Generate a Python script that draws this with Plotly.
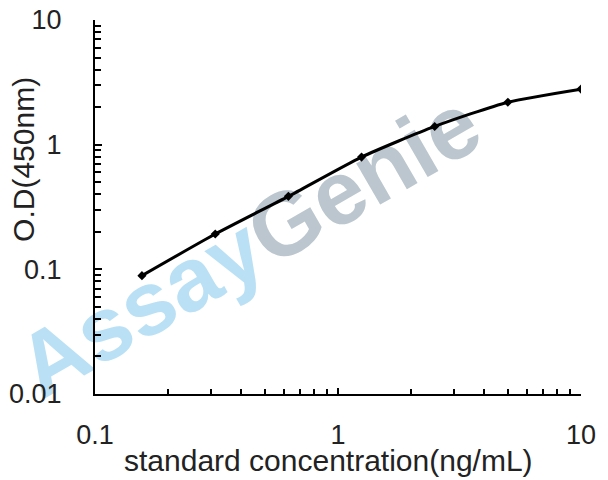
import plotly.graph_objects as go

# standard curve values
concentration = [0.156, 0.3125, 0.625, 1.25, 2.5, 5, 10]
od_450 = [0.089, 0.192, 0.385, 0.795, 1.40, 2.19, 2.79]

x_title = "standard concentration(ng/mL)"
y_title = "O.D(450nm)"

font_family = "Liberation Sans, Arial, sans-serif"
text_col = "#222222"

fig = go.Figure()

fig.add_trace(go.Scatter(
    x=concentration, y=od_450,
    mode="lines+markers",
    line=dict(color="black", width=3, shape="spline", smoothing=0.6),
    marker=dict(symbol="diamond", size=7, color="black"),
    showlegend=False))

# watermark, kept under the curve
watermark = ("<b><span style='color:#b9e0f4'>Assay</span>"
             "<span style='color:#bcc6ce'>Genie</span></b>")
fig.add_shape(type="rect", xref="paper", yref="paper",
              x0=0.297, x1=0.317, y0=0.410, y1=0.430,
              line=dict(width=0), layer="below",
              label=dict(text=watermark, textangle=-30, textposition="middle center",
                         font=dict(size=90, color="#b9e0f4", family=font_family)))

fig.add_annotation(text=y_title, xref="paper", yref="paper", x=-0.146, y=0.626,
                   textangle=-90, showarrow=False, xanchor="center", yanchor="middle",
                   font=dict(size=30, color=text_col, family=font_family))
fig.add_annotation(text=x_title, xref="paper", yref="paper", x=0.48, y=-0.178,
                   showarrow=False, xanchor="center", yanchor="middle",
                   font=dict(size=30, color=text_col, family=font_family))

fig.update_xaxes(type="log", range=[-1, 1], dtick=1, automargin=False,
                 showline=True, linecolor="black", linewidth=2, mirror=False,
                 ticks="inside", ticklen=6, tickwidth=1.5, tickcolor="black",
                 minor=dict(ticks="inside", ticklen=5, tickwidth=1.5, tickcolor="black", showgrid=False),
                 showgrid=False, zeroline=False,
                 ticklabelstandoff=16, ticklabeloverflow="allow",
                 tickfont=dict(size=27, color=text_col, family=font_family))
fig.update_yaxes(type="log", range=[-2, 1], dtick=1, automargin=False,
                 showline=True, linecolor="black", linewidth=2, mirror=False,
                 ticks="inside", ticklen=7, tickwidth=1.5, tickcolor="black",
                 minor=dict(ticks="inside", ticklen=6, tickwidth=1.5, tickcolor="black", showgrid=False),
                 showgrid=False, zeroline=False,
                 ticklabelstandoff=26, ticklabeloverflow="allow",
                 tickfont=dict(size=27, color=text_col, family=font_family))

# the page puts the figure 8px in from the top-left corner
fig.update_layout(width=600, height=472,
                  margin=dict(l=87, r=27, t=12, b=86),
                  plot_bgcolor="white", paper_bgcolor="white")

fig.write_html("out.html")
